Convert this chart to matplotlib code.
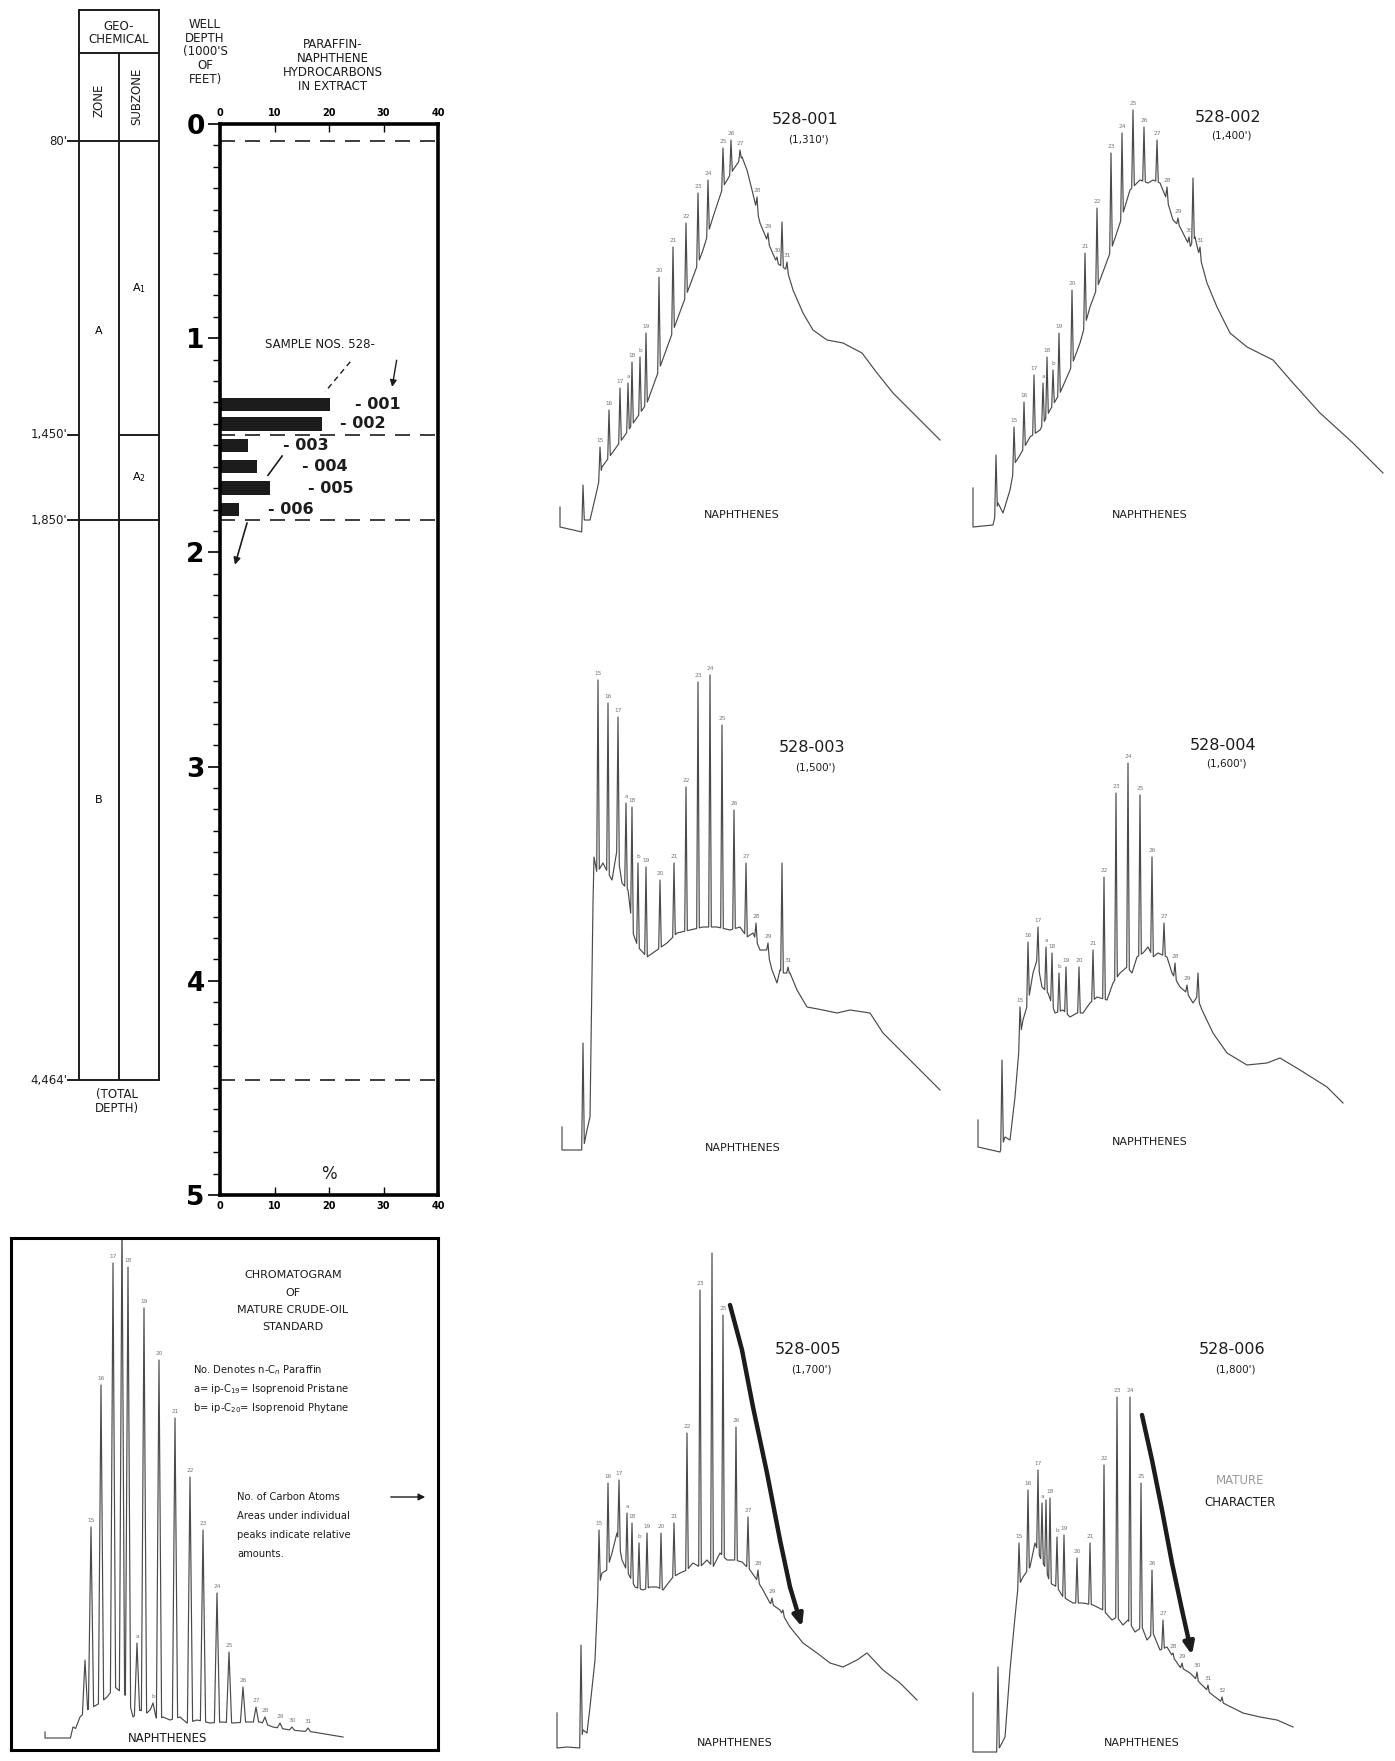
import numpy as np
import matplotlib.pyplot as plt

# ---------------- well column / bar chart data ----------------
zone_depths = [0.08, 1.45, 1.85, 4.464]          # thousands of feet
zone_depth_labels = ["80'", "1,450'", "1,850'", "4,464'"]
sample_ids = ['- 001', '- 002', '- 003', '- 004', '- 005', '- 006']
sample_depths = [1.31, 1.40, 1.50, 1.60, 1.70, 1.80]
pn_percent = [20.2, 18.7, 5.2, 6.8, 9.2, 3.5]     # paraffin-naphthene % in extract
label_x = [24.8, 22.0, 11.6, 15.0, 16.1, 8.8]

# ---------------- chromatogram traces ----------------
# baseline (x, response) and peaks (x, apex, carbon number)
std_base = [(35, 18), (35, 12), (62, 12), (65, 20), (70, 33), (77, 40), (83, 43), (90, 47), (97, 53),
            (105, 63), (112, 57), (118, 53), (123, 33), (130, 40), (137, 37), (143, 43), (147, 30),
            (153, 33), (160, 30), (170, 33), (177, 27), (187, 30), (200, 27), (213, 28), (223, 27),
            (237, 28), (250, 28), (263, 23), (280, 20), (303, 18), (333, 13)]
std_peaks = [(63, 23, ''), (75, 90, ''), (81, 223, '15'), (91, 365, '16'), (103, 487, '17'),
             (112, 530, ''), (118, 483, '18'), (127, 107, 'a'), (134, 442, '19'), (143, 47, 'b'),
             (149, 390, '20'), (165, 332, '21'), (180, 273, '22'), (193, 220, '23'), (207, 157, '24'),
             (219, 98, '25'), (233, 63, '26'), (246, 43, '27'), (255, 33, '28'), (270, 27, '29'),
             (282, 23, '30'), (298, 22, '31')]

s001_base = [(10, 43), (10, 23), (32, 18), (33, 30), (40, 30), (47, 60), (52, 83), (73, 112), (97, 147),
             (110, 183), (127, 230), (143, 273), (153, 300), (163, 333), (173, 363), (183, 380),
             (192, 393), (197, 380), (202, 360), (210, 327), (220, 303), (227, 287), (237, 280),
             (243, 260), (253, 237), (263, 220), (277, 210), (293, 207), (312, 197), (327, 177),
             (343, 157), (363, 137), (390, 110)]
s001_peaks = [(33, 65, ''), (50, 103, '15'), (59, 140, '16'), (70, 162, '17'), (78, 167, 'a'),
              (82, 188, '18'), (90, 193, 'b'), (96, 217, '19'), (109, 273, '20'), (123, 303, '21'),
              (136, 327, '22'), (148, 357, '23'), (158, 370, '24'), (173, 402, '25'), (181, 410, '26'),
              (190, 400, '27'), (207, 353, '28'), (218, 317, '29'), (227, 293, '30'), (232, 328, ''),
              (237, 288, '31')]

s002_base = [(23, 62), (23, 23), (43, 25), (48, 47), (53, 37), (60, 60), (65, 87), (70, 95), (80, 113),
             (90, 120), (100, 140), (110, 157), (120, 180), (130, 207), (140, 243), (150, 270),
             (160, 297), (170, 327), (180, 360), (190, 370), (198, 367), (203, 370), (210, 367),
             (217, 350), (223, 330), (230, 323), (240, 303), (245, 313), (248, 300), (257, 267),
             (267, 243), (280, 217), (297, 203), (323, 190), (343, 167), (370, 137), (403, 107),
             (433, 77)]
s002_peaks = [(46, 95, ''), (64, 123, '15'), (74, 148, '16'), (84, 175, '17'), (93, 167, 'a'),
              (97, 193, '18'), (103, 180, 'b'), (109, 217, '19'), (122, 260, '20'), (135, 297, '21'),
              (147, 342, '22'), (161, 397, '23'), (172, 417, '24'), (183, 440, '25'), (194, 423, '26'),
              (207, 410, '27'), (217, 363, '28'), (228, 332, '29'), (239, 313, '30'), (243, 372, ''),
              (250, 303, '31')]

s003_base = [(12, 43), (12, 20), (33, 20), (37, 40), (40, 53), (43, 267), (44, 313), (47, 297), (53, 307),
             (58, 297), (62, 290), (67, 320), (72, 287), (78, 280), (83, 237), (88, 223), (97, 213),
             (107, 220), (117, 227), (127, 237), (140, 240), (153, 243), (167, 243), (180, 240),
             (190, 243), (197, 233), (203, 237), (210, 220), (217, 220), (222, 200), (227, 187),
             (230, 200), (233, 197), (240, 197), (247, 180), (257, 163), (273, 160), (287, 157),
             (300, 160), (320, 157), (333, 137), (360, 110), (390, 80)]
s003_peaks = [(33, 127, ''), (48, 490, '15'), (58, 467, '16'), (68, 453, '17'), (76, 367, 'a'),
              (82, 363, '18'), (88, 307, 'b'), (96, 303, '19'), (110, 290, '20'), (124, 307, '21'),
              (136, 383, '22'), (148, 488, '23'), (160, 495, '24'), (172, 445, '25'), (184, 360, '26'),
              (196, 307, '27'), (206, 247, '28'), (218, 227, '29'), (232, 307, ''), (238, 203, '31')]

s004_base = [(28, 50), (28, 23), (50, 18), (55, 33), (60, 30), (65, 73), (70, 133), (73, 150), (78, 167),
             (83, 197), (87, 210), (92, 183), (98, 177), (105, 157), (113, 160), (120, 153), (127, 157),
             (133, 157), (140, 167), (147, 173), (157, 170), (163, 187), (170, 197), (177, 203),
             (182, 197), (187, 213), (193, 217), (198, 223), (203, 213), (208, 217), (217, 213),
             (222, 197), (230, 183), (237, 177), (243, 167), (247, 173), (252, 160), (263, 137),
             (277, 117), (297, 105), (317, 107), (330, 112), (350, 100), (377, 83), (393, 67)]
s004_peaks = [(52, 110, ''), (70, 163, '15'), (78, 228, '16'), (88, 243, '17'), (96, 223, 'a'),
              (102, 217, '18'), (109, 197, 'b'), (116, 203, '19'), (129, 203, '20'), (143, 220, '21'),
              (154, 293, '22'), (166, 377, '23'), (178, 407, '24'), (190, 375, '25'), (202, 313, '26'),
              (214, 247, '27'), (225, 207, '28'), (237, 185, '29'), (248, 197, '')]

s005_base = [(7, 47), (7, 12), (17, 13), (30, 12), (33, 30), (37, 27), (40, 53), (45, 100), (48, 170),
             (52, 187), (57, 190), (62, 207), (67, 227), (72, 200), (78, 187), (85, 173), (93, 170),
             (100, 173), (107, 173), (113, 170), (123, 183), (130, 187), (137, 190), (143, 197),
             (150, 193), (157, 200), (163, 193), (170, 207), (177, 200), (185, 200), (192, 198),
             (200, 190), (207, 180), (213, 170), (220, 157), (230, 150), (240, 133), (253, 117),
             (267, 107), (280, 97), (293, 93), (307, 100), (317, 107), (333, 90), (350, 77), (367, 60)]
s005_peaks = [(31, 115, ''), (49, 230, '15'), (58, 277, '16'), (69, 280, '17'), (77, 247, 'a'),
              (82, 237, '18'), (89, 217, 'b'), (97, 227, '19'), (111, 227, '20'), (124, 237, '21'),
              (137, 327, '22'), (150, 470, '23'), (162, 507, ''), (173, 445, '25'), (186, 333, '26'),
              (198, 243, '27'), (208, 190, '28'), (222, 162, '29'), (233, 150, '')]
s005_trend = [(180, 455), (192, 410), (203, 353), (217, 287), (230, 220), (240, 173), (252, 133)]

s006_base = [(23, 67), (23, 8), (47, 8), (52, 17), (55, 23), (60, 90), (65, 143), (68, 173), (73, 183),
             (80, 193), (85, 217), (90, 203), (95, 193), (100, 177), (107, 173), (113, 163), (123, 157),
             (133, 157), (143, 155), (153, 150), (162, 140), (167, 143), (173, 135), (178, 140),
             (185, 128), (192, 133), (197, 120), (203, 127), (210, 110), (217, 113), (223, 103),
             (230, 93), (240, 87), (250, 77), (260, 67), (273, 57), (293, 47), (310, 43), (327, 40),
             (343, 33)]
s006_peaks = [(48, 93, ''), (69, 217, '15'), (78, 270, '16'), (88, 290, '17'), (92, 257, 'a'),
              (96, 260, ''), (100, 262, '18'), (107, 223, 'b'), (114, 225, '19'), (127, 202, '20'),
              (140, 217, '21'), (154, 295, '22'), (167, 363, '23'), (180, 363, '24'), (191, 277, '25'),
              (202, 190, '26'), (213, 140, '27'), (223, 107, '28'), (232, 97, '29'), (247, 88, '30'),
              (258, 75, '31'), (272, 63, '32')]
s006_trend = [(192, 345), (202, 300), (212, 250), (222, 197), (232, 150), (242, 105)]

W, H = 1395, 1761
plt.rcParams['font.family'] = ['DejaVu Sans']
fig = plt.figure(figsize=(W / 100, H / 100), dpi=100)
INK = '#1c1c1c'
TRACE = '#4a4a4a'


def panel(left, top, right, bottom):
    return fig.add_axes([left / W, 1 - bottom / H, (right - left) / W, (bottom - top) / H])


def fig_text(x, y, s, **kw):
    fig.text(x / W, 1 - y / H, s, **kw)


def draw_trace(ax, base, peaks, half, labsize=4.2):
    bx = np.array([p[0] for p in base], float)
    by = np.array([p[1] for p in base], float)
    pts = [p for p in base if not any(abs(p[0] - k[0]) < half for k in peaks)]
    for x, top, lab in peaks:
        pts += [(x - half, np.interp(x - half, bx, by)), (x, top),
                (x + half, np.interp(x + half, bx, by))]
        if lab:
            ax.text(x, top + 4, lab, fontsize=labsize, ha='center', va='bottom', color='#777777')
    pts.sort(key=lambda p: p[0])
    ax.plot([p[0] for p in pts], [p[1] for p in pts], color=TRACE, lw=0.85)


def draw_trend(ax, pts):
    xs = [p[0] for p in pts]
    ys = [p[1] for p in pts]
    ax.plot(xs[:-1], ys[:-1], color=INK, lw=3.2, solid_capstyle='round')
    ax.annotate('', xy=(xs[-1], ys[-1]), xytext=(xs[-2], ys[-2]),
                arrowprops=dict(arrowstyle='-|>,head_width=0.3,head_length=0.7',
                                color=INK, lw=3.2, shrinkA=0, shrinkB=0))


# ---------------- geochemical zone column ----------------
zax = panel(79, 10, 159, 1195)
zax.set_xlim(0, 2)
zax.set_ylim(5, -0.533)
zax.axis('off')
top, head = -0.533, -0.332
lk = dict(color=INK, lw=1.4, clip_on=False)
zax.plot([0, 0], [top, zone_depths[-1]], **lk)
zax.plot([2, 2], [top, zone_depths[-1]], **lk)
zax.plot([1, 1], [head, zone_depths[-1]], **lk)
zax.plot([0, 2], [top, top], **lk)
zax.plot([0, 2], [head, head], **lk)
for d, lab in zip(zone_depths, zone_depth_labels):
    x0 = 1 if lab == "1,450'" else 0
    zax.plot([x0, 2], [d, d], **lk)
    zax.plot([-0.27, 0], [d, d], **lk)
    zax.text(-0.3, d, lab, fontsize=8.5, ha='right', va='center', color=INK)
zax.text(1, -0.425, 'GEO-\nCHEMICAL', fontsize=8.5, ha='center', va='center', linespacing=1.0, color=INK)
zax.text(0.5, -0.11, 'ZONE', fontsize=8.5, rotation=90, ha='center', va='center', color=INK)
zax.text(1.45, -0.13, 'SUBZONE', fontsize=8.5, rotation=90, ha='center', va='center', color=INK)
zax.text(0.5, (zone_depths[0] + zone_depths[2]) / 2, 'A', fontsize=8, ha='center', va='center')
zax.text(1.5, (zone_depths[0] + zone_depths[1]) / 2, 'A$_1$', fontsize=8, ha='center', va='center')
zax.text(1.5, (zone_depths[1] + zone_depths[2]) / 2, 'A$_2$', fontsize=8, ha='center', va='center')
zax.text(0.5, (zone_depths[2] + zone_depths[3]) / 2, 'B', fontsize=8, ha='center', va='center')
zax.text(0.95, 4.5, '(TOTAL\nDEPTH)', fontsize=8.5, ha='center', va='top', linespacing=1.1, color=INK)

# ---------------- paraffin-naphthene bar chart ----------------
fig_text(205, 52, "WELL\nDEPTH\n(1000'S\nOF\nFEET)", fontsize=8.5, ha='center', va='center',
         linespacing=1.05, color=INK)
fig_text(333, 66, 'PARAFFIN-\nNAPHTHENE\nHYDROCARBONS\nIN EXTRACT', fontsize=8.5, ha='center',
         va='center', linespacing=1.1, color=INK)

bax = panel(220, 124, 438, 1195)
bax.barh(sample_depths, pn_percent, height=0.062, color=INK)
bax.set_xlim(0, 40)
bax.set_ylim(5, 0)
for s in bax.spines.values():
    s.set_linewidth(2.6)
bax.set_xticks([0, 10, 20, 30, 40])
bax.tick_params(axis='x', direction='in', top=True, bottom=True, labeltop=True, labelbottom=True,
                length=6, width=1, labelsize=7, pad=4)
bax.set_yticks(range(6))
bax.set_yticks(np.arange(0, 5.01, 0.1), minor=True)
bax.tick_params(axis='y', which='major', direction='out', length=9, width=1.2, labelsize=19, pad=2)
bax.tick_params(axis='y', which='minor', direction='out', length=5, width=1)
for t in bax.get_yticklabels() + bax.get_xticklabels():
    t.set_fontweight('bold')
for d in zone_depths:
    bax.axhline(d, color=INK, lw=1.2, ls=(0, (9, 6)))
for sid, d, lx in zip(sample_ids, sample_depths, label_x):
    bax.text(lx, d, sid, fontsize=11.5, fontweight='bold', ha='left', va='center', color=INK)
bax.text(8.3, 1.03, 'SAMPLE NOS. 528-', fontsize=8.5, ha='left', va='center', color=INK)
bax.annotate('', xy=(31.5, 1.24), xytext=(32.5, 1.09),
             arrowprops=dict(arrowstyle='-|>', color=INK, lw=1))
bax.plot([23.9, 19.3], [1.11, 1.25], color=INK, lw=1, ls=(0, (4, 3)))
bax.plot([11.4, 8.8], [1.55, 1.64], color=INK, lw=1.2)
bax.annotate('', xy=(2.6, 2.07), xytext=(5.1, 1.85),
             arrowprops=dict(arrowstyle='-|>', color=INK, lw=1.2))
bax.text(20, 4.9, '%', fontsize=12, ha='center', va='center', color=INK)

# ---------------- standard chromatogram ----------------
sax = panel(11, 1238, 438, 1750)
sax.set_xlim(1, 428)
sax.set_ylim(0, 512)
sax.set_xticks([])
sax.set_yticks([])
for s in sax.spines.values():
    s.set_linewidth(2.2)
draw_trace(sax, std_base, std_peaks, 2.6)
for i, line in enumerate(['CHROMATOGRAM', 'OF', 'MATURE CRUDE-OIL', 'STANDARD']):
    sax.text(283, 475 - 17.5 * i, line, fontsize=8, ha='center', va='center', color=INK)
for i, line in enumerate(['No. Denotes n-C$_n$ Paraffin', 'a= ip-C$_{19}$= Isoprenoid Pristane',
                          'b= ip-C$_{20}$= Isoprenoid Phytane']):
    sax.text(183, 380 - 19 * i, line, fontsize=7.2, ha='left', va='center', color=INK)
for i, line in enumerate(['No. of Carbon Atoms', 'Areas under individual', 'peaks indicate relative',
                          'amounts.']):
    sax.text(227, 253 - 19 * i, line, fontsize=7.2, ha='left', va='center', color=INK)
sax.annotate('', xy=(418, 253), xytext=(378, 253),
             arrowprops=dict(arrowstyle='-|>', color=INK, lw=1))
sax.text(158, 12, 'NAPHTHENES', fontsize=8.5, ha='center', va='center', color=INK)

# ---------------- sample chromatograms ----------------
samples = [
    ('528-001', "(1,310')", s001_base, s001_peaks, None, (550, 90, 950, 550), (255, 430), (192, 35)),
    ('528-002', "(1,400')", s002_base, s002_peaks, None, (950, 90, 1395, 550), (278, 433), (200, 35)),
    ('528-003', "(1,500')", s003_base, s003_peaks, None, (550, 650, 950, 1170), (262, 422), (193, 22)),
    ('528-004', "(1,600')", s004_base, s004_peaks, None, (950, 650, 1395, 1170), (273, 425), (200, 28)),
    ('528-005', "(1,700')", s005_base, s005_peaks, s005_trend, (550, 1230, 950, 1760), (258, 410), (185, 17)),
    ('528-006', "(1,800')", s006_base, s006_peaks, s006_trend, (950, 1230, 1395, 1760), (282, 410), (192, 17)),
]
for name, depth, base, peaks, trend, rect, tpos, npos in samples:
    ax = panel(*rect)
    ax.set_xlim(0, rect[2] - rect[0])
    ax.set_ylim(0, rect[3] - rect[1])
    ax.axis('off')
    draw_trace(ax, base, peaks, 1.3)
    if trend:
        draw_trend(ax, trend)
    ax.text(tpos[0], tpos[1], name, fontsize=11.5, ha='center', va='center', color=INK)
    ax.text(tpos[0] + 3, tpos[1] - 19, depth, fontsize=7.5, ha='center', va='center', color=INK)
    ax.text(npos[0], npos[1], 'NAPHTHENES', fontsize=8, ha='center', va='center', color=INK)
    if name == '528-006':
        ax.text(290, 280, 'MATURE', fontsize=8.5, ha='center', va='center', color='#9a9a9a')
        ax.text(290, 257, 'CHARACTER', fontsize=8.5, ha='center', va='center', color=INK)

fig.savefig('out.png', dpi=100)
